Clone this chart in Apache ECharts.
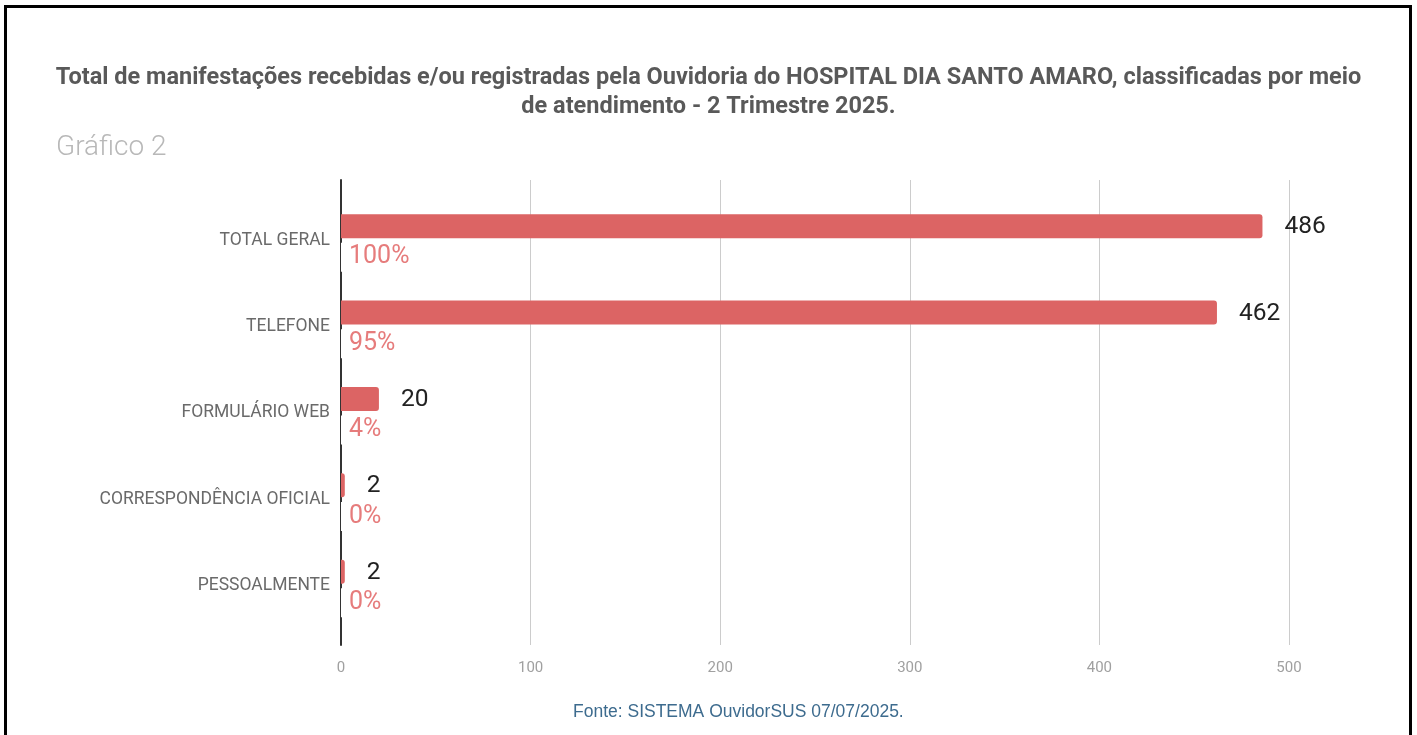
<!DOCTYPE html>
<html>
<head>
<meta charset="utf-8">
<script src="https://cdn.jsdelivr.net/npm/echarts@6/dist/echarts.min.js"></script>
<style>
  html, body { margin: 0; padding: 0; background: #fff; }
  #chart { width: 1417px; height: 735px; }
</style>
</head>
<body>
<div id="chart"></div>
<script>
// meios de atendimento
const categories = ['TOTAL GERAL', 'TELEFONE', 'FORMULÁRIO WEB', 'CORRESPONDÊNCIA OFICIAL', 'PESSOALMENTE'];
const totals = [486, 462, 20, 2, 2];
const percents = [100, 95, 4, 0, 0];
const xTicks = [0, 100, 200, 300, 400, 500];

const barColor = '#dc6464';
const pctColor = '#e67c7c';

var chart = echarts.init(document.getElementById('chart'), null, { renderer: 'canvas' });

var option = {
  backgroundColor: '#fff',
  animation: false,
  title: [
    {
      text: 'Total de manifestações recebidas e/ou registradas pela Ouvidoria do HOSPITAL DIA SANTO AMARO, classificadas por meio\nde atendimento - 2 Trimestre 2025.',
      left: 'center',
      top: 59,
      textStyle: {
        fontFamily: 'Roboto',
        fontSize: 23.5,
        fontWeight: 'bold',
        color: '#595959',
        lineHeight: 29,
        align: 'center'
      }
    },
    {
      text: 'Gráfico 2',
      left: 51,
      top: 129,
      textStyle: { fontFamily: 'Roboto', fontSize: 28, fontWeight: 300, color: '#b8b8b8' }
    },
    {
      text: 'Fonte: SISTEMA OuvidorSUS 07/07/2025.',
      left: 568,
      top: 698,
      textStyle: { fontFamily: 'Liberation Sans', fontSize: 17.5, fontWeight: 'normal', color: '#3d6b8e' }
    }
  ],
  graphic: [
    {
      type: 'rect',
      shape: { x: 5.5, y: 6.5, width: 1405, height: 760 },
      style: { fill: 'none', stroke: '#000', lineWidth: 3 },
      z: 100
    }
  ],
  grid: [
    // grade com linhas verticais e eixo
    { left: 341, right: 128, top: 180, height: 465 },
    // barras
    { left: 341, right: 128, top: 197, height: 432 }
  ],
  xAxis: [
    {
      gridIndex: 0,
      type: 'value',
      min: xTicks[0],
      max: xTicks[xTicks.length - 1],
      interval: 100,
      axisLine: { show: false },
      axisTick: { show: false },
      splitLine: { lineStyle: { color: '#cccccc', width: 1 } },
      axisLabel: { fontFamily: 'Roboto', fontSize: 15, color: '#a0a0a0', margin: 16 }
    },
    {
      gridIndex: 1,
      type: 'value',
      min: xTicks[0],
      max: xTicks[xTicks.length - 1],
      show: false
    }
  ],
  yAxis: [
    {
      gridIndex: 0,
      type: 'value',
      min: 0,
      max: 1,
      axisLine: { show: true, lineStyle: { color: '#333', width: 2 } },
      axisTick: { show: false },
      axisLabel: { show: false },
      splitLine: { show: false }
    },
    {
      gridIndex: 1,
      type: 'category',
      inverse: true,
      data: categories,
      axisLine: { show: false },
      axisTick: { show: false },
      axisLabel: { fontFamily: 'Roboto', fontSize: 17.5, color: '#6a6a6a', margin: 11 }
    }
  ],
  series: [
    {
      name: 'Total',
      type: 'bar',
      xAxisIndex: 1,
      yAxisIndex: 1,
      data: totals,
      barWidth: 24,
      barGap: '17%',
      itemStyle: { color: barColor, borderRadius: [0, 3, 3, 0] },
      label: {
        show: true,
        position: 'right',
        distance: 22,
        offset: [0, 1],
        fontFamily: 'Roboto',
        fontSize: 24.5,
        color: '#222'
      },
      z: 3
    },
    {
      name: 'Percentual',
      type: 'bar',
      xAxisIndex: 1,
      yAxisIndex: 1,
      data: percents,
      barWidth: 24,
      itemStyle: { color: 'rgba(0,0,0,0)' },
      label: {
        show: true,
        position: 'insideLeft',
        distance: 0,
        offset: [0, 3],
        formatter: '{c}%',
        fontFamily: 'Roboto',
        fontSize: 25,
        color: pctColor,
        backgroundColor: '#fff',
        padding: [2, 2, 2, 8]
      },
      z: 4
    }
  ]
};

chart.setOption(option);
</script>
</body>
</html>
